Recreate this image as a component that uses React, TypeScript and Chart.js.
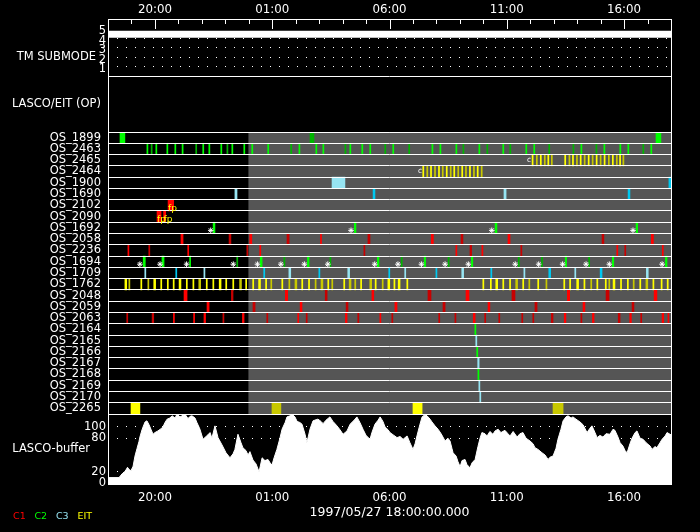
import React, { useEffect, useRef } from 'react';
import { Chart, registerables } from 'chart.js';

Chart.register(...registerables);

// ---------- data ----------
const START_HOUR = 18; // axis origin: 1997/05/27 18:00
const HOUR_TICKS = Array.from({ length: 25 }, (_, i) => i);
const LABELED_HOURS = [2, 7, 12, 17, 22];
const DATE_TITLE = '1997/05/27 18:00:00.000';

const ROWS = [
  'OS_1899', 'OS_2463', 'OS_2465', 'OS_2464', 'OS_1900', 'OS_1690', 'OS_2102', 'OS_2090',
  'OS_1692', 'OS_2058', 'OS_2236', 'OS_1694', 'OS_1709', 'OS_1762', 'OS_2048', 'OS_2059',
  'OS_2063', 'OS_2164', 'OS_2165', 'OS_2166', 'OS_2167', 'OS_2168', 'OS_2169', 'OS_2170', 'OS_2265',
];

const TM_TICKS = [1, 2, 3, 4, 5];
const TM_SUBMODE: [number, number][] = [[0, 4.4], [24, 4.4]];

const DATA_COVERAGE: [number, number] = [6, 24];

type Ev = [string, number, number?];

const RED_BRIGHT: Ev[] = [
  ['OS_2102', 2.56, 2.8], ['OS_2090', 2.09, 2.26], ['OS_2090', 2.37, 2.46],
  ['OS_2058', 3.11, 3.2], ['OS_2058', 6.04, 6.13], ['OS_2058', 9.08], ['OS_2058', 13.78, 13.87], ['OS_2058', 17.05, 17.14], ['OS_2058', 23.16, 23.25],
  ['OS_2236', 0.87], ['OS_2236', 3.42], ['OS_2236', 6.49], ['OS_2236', 14.85], ['OS_2236', 15.96], ['OS_2236', 21.71], ['OS_2236', 23.65],
  ['OS_2048', 3.24, 3.37], ['OS_2048', 7.56, 7.66], ['OS_2048', 11.25, 11.33], ['OS_2048', 15.26, 15.39], ['OS_2048', 19.58, 19.68], ['OS_2048', 23.28, 23.4],
  ['OS_2059', 4.22, 4.31], ['OS_2059', 8.19, 8.27], ['OS_2059', 12.23, 12.32], ['OS_2059', 16.2, 16.28], ['OS_2059', 20.25, 20.33],
  ['OS_2063', 2.81], ['OS_2063', 3.67], ['OS_2063', 4.09, 4.16], ['OS_2063', 5.73, 5.8], ['OS_2063', 8.11], ['OS_2063', 10.12, 10.19],
  ['OS_2063', 11.61], ['OS_2063', 15.57, 15.65], ['OS_2063', 19.45, 19.52], ['OS_2063', 20.65, 20.72], ['OS_2063', 22.24, 22.31],
  ['OS_2063', 23.62, 23.69], ['OS_2063', 23.89],
];

const RED_DARK: Ev[] = [
  ['OS_2058', 5.16, 5.24], ['OS_2058', 7.63, 7.72], ['OS_2058', 11.08, 11.17], ['OS_2058', 15.05, 15.13], ['OS_2058', 21.06, 21.14],
  ['OS_2236', 1.76], ['OS_2236', 5.94], ['OS_2236', 10.93], ['OS_2236', 15.43, 15.5], ['OS_2236', 17.62], ['OS_2236', 22.05],
  ['OS_2048', 5.26, 5.33], ['OS_2048', 9.26, 9.34], ['OS_2048', 13.64, 13.77], ['OS_2048', 17.22, 17.35], ['OS_2048', 21.23, 21.36],
  ['OS_2059', 6.18, 6.27], ['OS_2059', 10.15, 10.23], ['OS_2059', 14.28, 14.37], ['OS_2059', 18.2, 18.29], ['OS_2059', 22.34, 22.42],
  ['OS_2063', 0.82], ['OS_2063', 1.88, 1.95], ['OS_2063', 4.92], ['OS_2063', 6.79], ['OS_2063', 8.47], ['OS_2063', 10.67],
  ['OS_2063', 12.12], ['OS_2063', 14.12], ['OS_2063', 14.81], ['OS_2063', 16.08], ['OS_2063', 16.68], ['OS_2063', 17.66],
  ['OS_2063', 18.13], ['OS_2063', 18.9, 18.97], ['OS_2063', 20.18], ['OS_2063', 21.75, 21.83], ['OS_2063', 22.73],
];

const OS_2463_BRIGHT = [1.68, 2.06, 2.53, 2.87, 3.18, 4.06, 4.32, 4.83, 5.3, 5.81, 6.15, 6.83, 8.16, 8.88, 9.18, 10.33, 10.84,
  11.18, 12.16, 13.83, 14.17, 14.85, 15.83, 16.85, 17.83, 18.17, 20.18, 21.16, 21.84, 22.18, 23.16];
const OS_2463_DARK = [1.86, 3.76, 5.09, 7.81, 10.12, 11.82, 12.84, 15.15, 16.17, 17.15, 18.81, 19.84, 20.82, 22.82];

const GREEN_BRIGHT: Ev[] = [
  ['OS_1899', 0.51, 0.72], ['OS_1899', 23.36, 23.57],
  ...OS_2463_BRIGHT.map((t): Ev => ['OS_2463', t]),
  ['OS_1692', 4.48, 4.56], ['OS_1692', 10.5, 10.57], ['OS_1692', 16.5, 16.58], ['OS_1692', 22.51, 22.58],
  ['OS_1694', 1.5, 1.59], ['OS_1694', 2.3, 2.39], ['OS_1694', 3.5], ['OS_1694', 6.49, 6.57], ['OS_1694', 8.5, 8.57],
  ['OS_1694', 11.48, 11.55], ['OS_1694', 13.48, 13.54], ['OS_1694', 15.49, 15.55], ['OS_1694', 19.49, 19.55],
  ['OS_1694', 21.5, 21.56], ['OS_1694', 23.76, 23.83],
  ['OS_2164', 15.66], ['OS_2166', 15.74], ['OS_2168', 15.79],
];

const GREEN_DARK: Ev[] = [
  ['OS_1899', 8.61, 8.78],
  ...OS_2463_DARK.map((t): Ev => ['OS_2463', t]),
  ['OS_1694', 5.51], ['OS_1694', 7.52], ['OS_1694', 9.48], ['OS_1694', 12.52], ['OS_1694', 14.52],
  ['OS_1694', 17.51], ['OS_1694', 18.5], ['OS_1694', 20.51],
];

const CYAN_BRIGHT: Ev[] = [
  ['OS_1900', 23.91, 24], ['OS_1690', 11.3, 11.38], ['OS_1690', 22.17, 22.25],
  ['OS_1709', 2.91], ['OS_1709', 6.66], ['OS_1709', 9.01], ['OS_1709', 11.99], ['OS_1709', 14.0], ['OS_1709', 16.34],
  ['OS_1709', 18.79, 18.87], ['OS_1709', 20.98, 21.06],
];

const CYAN_LIGHT: Ev[] = [
  ['OS_1900', 9.55, 10.1], ['OS_1690', 5.41, 5.5], ['OS_1690', 16.88, 16.97],
  ['OS_1709', 1.59], ['OS_1709', 4.11], ['OS_1709', 7.71, 7.79], ['OS_1709', 10.22, 10.3], ['OS_1709', 12.67],
  ['OS_1709', 15.08, 15.16], ['OS_1709', 17.75], ['OS_1709', 19.92], ['OS_1709', 22.95, 23.03],
  ['OS_2165', 15.7], ['OS_2167', 15.76, 15.82], ['OS_2169', 15.83], ['OS_2170', 15.87],
];

const OS_2465_BRIGHT = [18.1, 18.45, 18.77, 19.49, 19.82, 20.15, 20.49, 20.83, 21.17, 21.52, 21.83];
const OS_2465_DARK = [18.28, 18.62, 18.92, 19.67, 19.99, 20.32, 20.66, 21.0, 21.35, 21.69, 21.97];
const OS_2464_BRIGHT = [13.44, 13.77, 14.11, 14.44, 14.76, 15.1, 15.43, 15.76];
const OS_2464_DARK = [13.61, 13.94, 14.27, 14.61, 14.93, 15.26, 15.6, 15.93];
const OS_1762_BRIGHT = [1.42, 2.27, 2.55, 2.8, 3.36, 3.64, 4.21, 4.49, 5.04, 5.34, 5.89, 6.19, 6.74, 7.43, 8.28, 8.57,
  9.39, 10.07, 10.79, 11.41, 12.21, 12.76, 16.0, 16.32, 16.85, 17.14, 17.7, 18.34, 19.45, 19.7, 20.31, 20.86, 21.22,
  21.87, 22.16, 22.69, 23.25, 23.6, 23.86];
const OS_1762_DARK = [0.91, 1.72, 6.96, 7.73, 8.85, 9.56, 10.54, 11.71, 17.96, 18.69, 20.6, 21.37, 22.41];

const YELLOW_BRIGHT: Ev[] = [
  ['OS_2265', 0.98, 1.36], ['OS_2265', 13.0, 13.39],
  ...OS_2465_BRIGHT.map((t): Ev => ['OS_2465', t]),
  ...OS_2464_BRIGHT.map((t): Ev => ['OS_2464', t]),
  ...OS_1762_BRIGHT.map((t): Ev => ['OS_1762', t]),
  ['OS_1762', 0.72, 0.8], ['OS_1762', 1.95, 2.03], ['OS_1762', 3.03, 3.11], ['OS_1762', 4.74, 4.82], ['OS_1762', 6.42, 6.5],
  ['OS_1762', 11.93, 12.01], ['OS_1762', 12.37, 12.45], ['OS_1762', 16.53, 16.61], ['OS_1762', 19.98, 20.06], ['OS_1762', 21.53, 21.61],
];

const YELLOW_DARK: Ev[] = [
  ['OS_2265', 6.99, 7.37], ['OS_2265', 18.97, 19.4],
  ...OS_2465_DARK.map((t): Ev => ['OS_2465', t]),
  ...OS_2464_DARK.map((t): Ev => ['OS_2464', t]),
  ...OS_1762_DARK.map((t): Ev => ['OS_1762', t]),
  ['OS_1762', 3.87, 3.95], ['OS_1762', 5.61, 5.69], ['OS_1762', 7.97, 8.05], ['OS_1762', 9.08, 9.16],
  ['OS_1762', 10.28, 10.36], ['OS_1762', 11.16, 11.24], ['OS_1762', 17.38, 17.46], ['OS_1762', 22.93, 23.01],
];

const STAR_MARKS: [string, number][] = [
  ['OS_1692', 4.38], ['OS_1692', 10.36], ['OS_1692', 16.36], ['OS_1692', 22.38],
  ...[1.36, 2.22, 3.35, 5.34, 6.37, 7.37, 8.37, 9.37, 11.37, 12.36, 13.36, 14.37, 15.36, 17.36, 18.36, 19.38, 20.38, 21.37, 23.62]
    .map((t): [string, number] => ['OS_1694', t]),
];

const ANNOTATIONS: [string, number, string, string][] = [
  ['OS_2465', 17.95, 'c', '#ffffff'],
  ['OS_2464', 13.3, 'c', '#ffffff'],
  ['OS_2102', 2.56, 'fp', '#ffff00'],
  ['OS_2090', 2.09, 'fp', '#ffff00'],
  ['OS_2090', 2.37, 'fp', '#ffff00'],
];

const BUF_TICKS = [0, 20, 80, 100];
const BUF_HOURS = [
  0, 0.47, 0.55, 0.64, 0.72, 0.79, 0.83, 0.9, 0.98, 1.07,
  1.15, 1.24, 1.32, 1.36, 1.45, 1.53, 1.58, 1.66, 1.75, 1.83,
  1.92, 2.0, 2.13, 2.26, 2.34, 2.43, 2.52, 2.64, 2.73, 2.86,
  2.94, 3.07, 3.2, 3.28, 3.41, 3.5, 3.58, 3.71, 3.79, 3.92,
  4.05, 4.18, 4.26, 4.35, 4.43, 4.56, 4.69, 4.86, 5.03, 5.2,
  5.33, 5.41, 5.54, 5.67, 5.75, 5.88, 5.97, 6.05, 6.18, 6.31,
  6.44, 6.57, 6.69, 6.82, 6.91, 6.99, 7.08, 7.2, 7.33, 7.42,
  7.55, 7.63, 7.76, 7.84, 7.97, 8.06, 8.18, 8.27, 8.4, 8.48,
  8.61, 8.74, 8.87, 8.95, 9.08, 9.17, 9.29, 9.46, 9.59, 9.76,
  9.89, 10.02, 10.19, 10.32, 10.49, 10.61, 10.74, 10.87, 11.0, 11.17,
  11.25, 11.38, 11.51, 11.6, 11.72, 11.81, 11.94, 12.02, 12.19, 12.32,
  12.45, 12.58, 12.75, 12.87, 13.0, 13.09, 13.17, 13.3, 13.39, 13.51,
  13.6, 13.73, 13.81, 13.94, 14.07, 14.2, 14.37, 14.49, 14.58, 14.66,
  14.71, 14.84, 14.92, 15.01, 15.09, 15.22, 15.3, 15.43, 15.52, 15.65,
  15.77, 15.86, 15.94, 16.07, 16.16, 16.28, 16.41, 16.5, 16.63, 16.75,
  16.92, 17.05, 17.14, 17.27, 17.44, 17.56, 17.69, 17.82, 17.99, 18.12,
  18.2, 18.33, 18.5, 18.63, 18.76, 18.84, 18.97, 19.1, 19.18, 19.31,
  19.4, 19.52, 19.61, 19.74, 19.82, 19.95, 20.12, 20.25, 20.42, 20.55,
  20.63, 20.76, 20.85, 20.97, 21.1, 21.23, 21.4, 21.53, 21.61, 21.74,
  21.83, 21.95, 22.04, 22.13, 22.25, 22.34, 22.47, 22.55, 22.68, 22.81,
  22.94, 23.02, 23.11, 23.19, 23.32, 23.4, 23.53, 23.62, 23.75, 23.83,
  23.92, 24.0,
];
const BUF_VALUES = [
  9.6, 9.6, 14, 18, 20.5, 25, 28, 24, 22, 30,
  48, 62, 74, 82, 95, 104, 109, 111, 104, 96,
  87, 90, 93, 97, 100, 108, 114, 116, 120, 116,
  123, 118, 121, 123, 115, 119, 120, 116, 108, 96,
  78, 83, 86, 90, 80, 102, 81, 68, 54, 45,
  52, 60, 87, 72, 63, 58, 50, 56, 41, 34,
  20, 45, 40, 42, 36, 32, 45, 60, 80, 96,
  108, 118, 120, 123, 118, 110, 108, 105, 87, 72,
  96, 111, 113, 114, 110, 106, 112, 118, 110, 102,
  95, 87, 93, 105, 112, 118, 108, 96, 85, 78,
  90, 105, 112, 118, 110, 100, 95, 90, 85, 81,
  83, 78, 84, 72, 60, 70, 84, 105, 118, 122,
  120, 114, 109, 102, 96, 88, 75, 80, 75, 62,
  54, 48, 38, 29, 40, 42, 33, 27, 36, 42,
  65, 80, 90, 88, 84, 92, 87, 93, 96, 90,
  94, 88, 84, 92, 82, 88, 90, 80, 75, 70,
  63, 60, 54, 50, 42, 46, 48, 62, 78, 96,
  111, 118, 120, 116, 118, 114, 109, 104, 90, 98,
  102, 90, 81, 85, 82, 88, 87, 96, 94, 82,
  72, 66, 58, 54, 70, 80, 90, 93, 80, 78,
  72, 69, 66, 60, 65, 63, 72, 78, 84, 90,
  88, 86,
];

const LEGEND_LABELS = ['C1', 'C2', 'C3', 'EIT'];
const LEGEND_COLORS = ['#ff0000', '#00ff00', '#96e4f2', '#ffff00'];

// ---------- styling ----------
const FONT = 'DejaVu Sans';
const WHITE = '#ffffff';
const CLEAR = 'rgba(0,0,0,0)';
const THIN = 0.045;

const rowIndex = (name: string) => ROWS.indexOf(name);
const toBars = (evs: Ev[]) =>
  evs.map(([row, a, b]) => ({
    y: rowIndex(row) + 0.5,
    x: b === undefined ? [a - THIN / 2, a + THIN / 2] : [a, b],
  }));

const hourLabel = (v: number) =>
  LABELED_HOURS.includes(v) ? `${String((START_HOUR + v) % 24).padStart(2, '0')}:00` : '';

const barDataset = (label: string, evs: Ev[], color: string, order: number) => ({
  type: 'bar',
  label,
  indexAxis: 'y',
  xAxisID: 'x',
  yAxisID: 'yOS',
  data: toBars(evs),
  backgroundColor: color,
  borderWidth: 0,
  grouped: false,
  categoryPercentage: 1,
  barPercentage: 1,
  order,
});

const decorPlugin = {
  id: 'decor',
  afterDraw(chart: any) {
    const { ctx, chartArea: ca, scales } = chart;
    const px = (v: number) => Math.round(v) + 0.5;
    ctx.save();
    ctx.strokeStyle = WHITE;
    ctx.lineWidth = 1;
    ctx.strokeRect(px(ca.left), px(ca.top), Math.round(ca.right) - Math.round(ca.left), Math.round(ca.bottom) - Math.round(ca.top));
    [scales.yTM.bottom, scales.yOP.bottom, scales.yOS.bottom].forEach((y: number) => {
      ctx.beginPath();
      ctx.moveTo(ca.left, px(y));
      ctx.lineTo(ca.right, px(y));
      ctx.stroke();
    });
    const xs = scales.x2;
    HOUR_TICKS.forEach((h) => {
      const x = px(xs.getPixelForValue(h));
      const len = LABELED_HOURS.includes(h) ? 10 : 5;
      ctx.beginPath();
      ctx.moveTo(x, ca.top);
      ctx.lineTo(x, ca.top + len);
      ctx.stroke();
    });

    // panel titles
    ctx.fillStyle = WHITE;
    ctx.font = `11.5px "${FONT}"`;
    ctx.textAlign = 'right';
    ctx.textBaseline = 'middle';
    ctx.fillText('TM SUBMODE', ca.left - 12, scales.yTM.getPixelForValue(2));
    ctx.fillText('LASCO-buffer', ca.left - 18, (scales.yBuf.top + scales.yBuf.bottom) / 2);

    // annotations inside rows
    ANNOTATIONS.forEach(([row, t, text, color]) => {
      const small = text === 'c';
      ctx.font = `${small ? 7.5 : 9}px "${FONT}"`;
      ctx.fillStyle = color;
      ctx.textAlign = small ? 'center' : 'left';
      const y = scales.yOS.getPixelForValue(rowIndex(row) + (small ? 0.45 : 0.78));
      ctx.fillText(text, scales.x.getPixelForValue(t), y);
    });

    // colour legend
    ctx.font = `9.5px "${FONT}"`;
    ctx.textAlign = 'left';
    let lx = 13;
    LEGEND_LABELS.forEach((lab, i) => {
      ctx.fillStyle = LEGEND_COLORS[i];
      ctx.fillText(lab, lx, 516.5);
      lx += ctx.measureText(lab).width + 8.8;
    });
    ctx.restore();
  },
};

const tickFont = { family: FONT, size: 11.5 };

function buildConfig(): any {
  const datasets: any[] = [
    {
      type: 'line',
      label: 'TM submode',
      xAxisID: 'x',
      yAxisID: 'yTM',
      data: TM_SUBMODE.map(([x, y]) => ({ x, y })),
      borderColor: WHITE,
      borderWidth: 7,
      borderCapStyle: 'butt',
      pointRadius: 0,
      order: 5,
    },
    barDataset('coverage', ROWS.map((r): Ev => [r, DATA_COVERAGE[0], DATA_COVERAGE[1]]), '#555555', 20),
    barDataset('C1', RED_BRIGHT, '#ff0000', 5),
    barDataset('C1 dark', RED_DARK, '#c80000', 5),
    barDataset('C2', GREEN_BRIGHT, '#00ff00', 5),
    barDataset('C2 dark', GREEN_DARK, '#00b400', 5),
    barDataset('C3', CYAN_BRIGHT, '#00c8f0', 5),
    barDataset('C3 light', CYAN_LIGHT, '#96e4f2', 5),
    barDataset('EIT', YELLOW_BRIGHT, '#ffff00', 5),
    barDataset('EIT dark', YELLOW_DARK, '#c8c800', 5),
    {
      type: 'scatter',
      label: 'marks',
      xAxisID: 'x',
      yAxisID: 'yOS',
      data: STAR_MARKS.map(([row, t]) => ({ x: t, y: rowIndex(row) + 0.72 })),
      pointStyle: 'star',
      pointRadius: 2.8,
      borderColor: WHITE,
      backgroundColor: WHITE,
      borderWidth: 1,
      order: 1,
    },
    {
      type: 'line',
      label: 'LASCO-buffer',
      xAxisID: 'x',
      yAxisID: 'yBuf',
      data: BUF_HOURS.map((x, i) => ({ x, y: BUF_VALUES[i] })),
      borderColor: WHITE,
      backgroundColor: WHITE,
      borderWidth: 1,
      pointRadius: 0,
      fill: 'start',
      tension: 0,
      order: 5,
    },
  ];

  const hourAxis = (position: string, padding: number, height: number, withTitle: boolean) => ({
    type: 'linear',
    position,
    min: 0,
    max: 24,
    offset: false,
    afterBuildTicks: (s: any) => { s.ticks = HOUR_TICKS.map((v) => ({ value: v })); },
    afterFit: (s: any) => { s.height = height; },
    grid: { display: false, offset: false, drawTicks: false },
    border: { display: false },
    ticks: {
      autoSkip: false, maxRotation: 0, minRotation: 0, padding, color: WHITE,
      font: { family: FONT, size: 11.8 }, callback: (v: number) => hourLabel(v),
    },
    title: withTitle
      ? { display: true, text: DATE_TITLE, color: WHITE, font: { family: FONT, size: 12.5 }, padding: { top: 0, bottom: 12 } }
      : { display: false },
  });

  const leftAxis = (extra: any) => ({
    type: 'linear',
    position: 'left',
    stack: 'panels',
    offset: false,
    afterFit: (s: any) => { s.width = 108; },
    ...extra,
  });

  return {
    type: 'bar',
    data: { datasets },
    plugins: [decorPlugin],
    options: {
      animation: false,
      responsive: true,
      maintainAspectRatio: false,
      events: [],
      layout: { padding: { left: 0, right: 29, top: 0, bottom: 0 } },
      plugins: { legend: { display: false }, tooltip: { enabled: false } },
      scales: {
        x: hourAxis('bottom', 7, 48, true),
        x2: hourAxis('top', 2, 19, false),
        yTM: leftAxis({
          stackWeight: 57, weight: 4, min: 0, max: 6,
          afterBuildTicks: (s: any) => { s.ticks = TM_TICKS.map((v) => ({ value: v })); },
          grid: {
            offset: false, drawTicks: false, lineWidth: 1,
            color: (c: any) => (c.tick && c.tick.value < 5 ? WHITE : CLEAR),
          },
          border: { display: false, dash: [1, 8] },
          ticks: { autoSkip: false, padding: 2, labelOffset: 3, color: WHITE, font: tickFont },
        }),
        yOP: leftAxis({
          stackWeight: 56, weight: 3, min: 0, max: 1,
          afterBuildTicks: (s: any) => { s.ticks = [{ value: 0.5 }]; },
          grid: { display: false, offset: false, drawTicks: false },
          border: { display: false },
          ticks: { autoSkip: false, padding: 7, color: WHITE, font: tickFont, callback: () => 'LASCO/EIT (OP)' },
        }),
        yOS: leftAxis({
          stackWeight: 282, weight: 2, min: 0, max: ROWS.length, reverse: true,
          afterBuildTicks: (s: any) => { s.ticks = Array.from({ length: ROWS.length + 1 }, (_, i) => ({ value: i })); },
          grid: { offset: false, drawTicks: false, color: WHITE, lineWidth: 1, z: 1 },
          border: { display: false },
          ticks: {
            autoSkip: false, padding: 7, labelOffset: 5.6, color: WHITE, font: tickFont,
            callback: (_v: number, i: number) => ROWS[i] ?? '',
          },
        }),
        yBuf: leftAxis({
          stackWeight: 70, weight: 1, min: -1.8, max: 123.2,
          afterBuildTicks: (s: any) => { s.ticks = BUF_TICKS.map((v) => ({ value: v })); },
          grid: {
            offset: false, drawTicks: false, lineWidth: 1,
            color: (c: any) => (c.tick && c.tick.value > 0 ? WHITE : CLEAR),
          },
          border: { display: false, dash: [1, 8] },
          ticks: { autoSkip: false, padding: 2, color: WHITE, font: tickFont },
        }),
      },
    },
  };
}

export default function App() {
  const ref = useRef<HTMLCanvasElement | null>(null);
  useEffect(() => {
    if (!ref.current) return;
    const chart = new Chart(ref.current, buildConfig());
    return () => chart.destroy();
  }, []);
  return (
    <div style={{ position: 'fixed', left: 0, top: 0, width: 700, height: 532, background: '#000' }}>
      <canvas ref={ref} />
    </div>
  );
}
